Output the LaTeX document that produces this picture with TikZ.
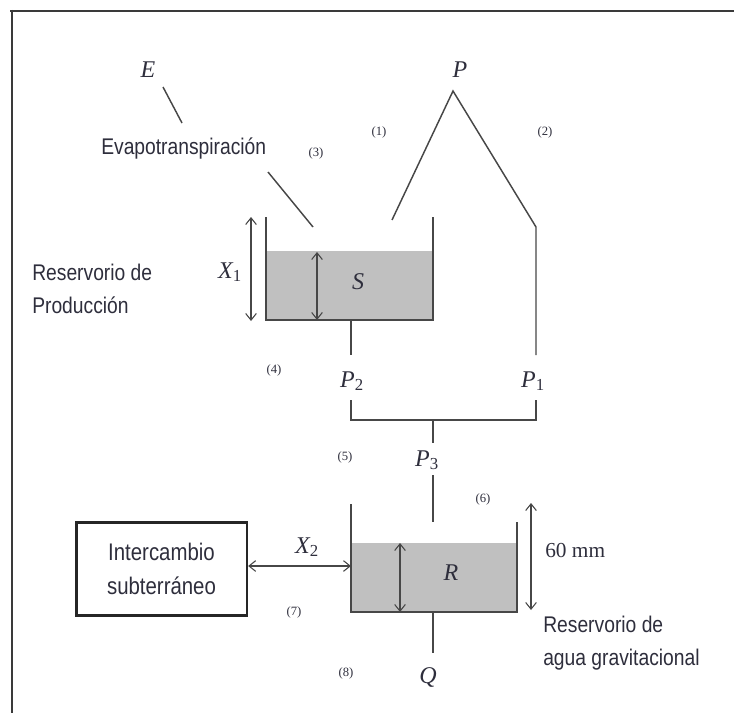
\documentclass[tikz,border=0pt]{standalone}
\usepackage{fontspec}
\setmainfont{Liberation Serif}
\newfontfamily\labfont[FakeStretch=0.85]{Liberation Sans}
\usetikzlibrary{arrows.meta,positioning,calc}
\definecolor{ink}{HTML}{2E2E3C}
\definecolor{wall}{HTML}{474747}
\definecolor{water}{HTML}{C0C0C0}
\definecolor{frame}{HTML}{3A3A3A}
\newcommand{\flux}[2]{\textit{#1}\textsubscript{\upshape#2}}
\tikzset{
  lab/.style={font=\labfont\fontsize{17}{24.5}\selectfont,text=ink,align=left,inner sep=0pt},
  var/.style={font=\fontsize{18}{20}\selectfont\itshape,text=ink,inner sep=0pt},
  num/.style={font=\fontsize{9.5}{11}\selectfont,text=ink,inner sep=0pt},
  tank/.style={draw=wall,line width=1.1pt},
  pipe/.style={draw=wall,line width=1.1pt},
  lvl/.style={draw=wall,line width=0.8pt,
    {Straight Barb[length=5pt,width=8pt]}-{Straight Barb[length=5pt,width=8pt]}},
  exbox/.style={draw=black!85,line width=2pt,minimum width=128pt,minimum height=70pt,
    align=center,font=\labfont\fontsize{18}{26}\selectfont,text=ink,inner sep=0pt},
}

\begin{document}
\begin{tikzpicture}[x=0.75pt,y=-0.75pt]
  \useasboundingbox (0,0) rectangle (734,713);
  % outer frame (top and left only)
  \draw[frame,line width=1.8pt] (10,11) -- (734,11);
  \draw[frame,line width=1.8pt] (12,10) -- (12,713);

  % --- production reservoir S ---
  \fill[water] (266,251) rectangle (433,320);
  \coordinate (sTL) at (266,217);
  \coordinate (sBL) at (266,320);
  \coordinate (sBR) at (433,320);
  \coordinate (sTR) at (433,217);
  \draw[tank] (sTL) -- (sBL) -- (sBR) -- (sTR);
  \node[var] (S) at (358,282) {S};
  \draw[lvl] (251,217) -- (251,321);
  \draw[lvl] (317,252) -- (317,320);
  \node[var] (X1) at (230,272) {\flux{X}{1}};
  \node[lab,anchor=west] (resP) at (32,289) {Reservorio de\\Producción};

  % --- evapotranspiration ---
  \node[var] (E) at (148,70) {E};
  \coordinate (eA) at (163,87);
  \coordinate (eB) at (182,123);
  \draw[pipe] (eA) -- (eB);
  \node[lab,anchor=base west] (evap) at (101,154) {Evapotranspiración};
  \coordinate (eC) at (268,172);
  \coordinate (eD) at (313,227);
  \draw[pipe] (eC) -- (eD);

  % --- precipitation split ---
  \node[var] (P) at (460,70) {P};
  \coordinate (apex) at (453,91);
  \coordinate (pS) at (392,220);
  \coordinate (pK) at (536,227);
  \coordinate (p1top) at (536,355);
  \draw[pipe] (pS) -- (apex) -- (pK) -- (p1top);

  \node[num] (n1) at (379,132) {(1)};
  \node[num] (n2) at (545,132) {(2)};
  \node[num] (n3) at (316,153) {(3)};
  \node[num] (n4) at (274,370) {(4)};

  % --- percolation and merge ---
  \coordinate (sOut) at (351,355);
  \draw[pipe] (351,320) -- (sOut);
  \node[var] (P2) at (352,381) {\flux{P}{2}};
  \node[var] (P1) at (533,381) {\flux{P}{1}};
  \coordinate (b1) at (351,400);
  \coordinate (b2) at (536,400);
  \draw[pipe] (b1) -- (351,420) -- (536,420) -- (b2);
  \coordinate (stem) at (433,443);
  \draw[pipe] (433,420) -- (stem);
  \node[num] (n5) at (345,457) {(5)};
  \node[var] (P3) at (427,460) {\flux{P}{3}};
  \coordinate (rIn) at (433,522);
  \draw[pipe] (433,475) -- (rIn);
  \node[num] (n6) at (483,499) {(6)};

  % --- routing reservoir R ---
  \fill[water] (351,543) rectangle (517,612);
  \coordinate (rTL) at (351,504);
  \coordinate (rTR) at (517,522);
  \draw[tank] (rTL) -- (351,612) -- (517,612) -- (rTR);
  \node[var] (R) at (451,573) {R};
  \draw[lvl] (400,543) -- (400,612);
  \draw[lvl] (531,503) -- (531,610);
  \node[anchor=base west,font=\fontsize{16}{18}\selectfont,text=ink,inner sep=0pt] (mm60) at (545,557) {60 mm};
  \node[lab,anchor=west] (resG) at (543,643) {Reservorio de\\agua gravitacional};

  % --- groundwater exchange ---
  \node[exbox] (inter) at (161.5,569) {Intercambio\\subterráneo};
  \coordinate (rSide) at (351,566);
  \draw[lvl] (inter.east |- rSide) -- (rSide);
  \node[var] (X2) at (307,547) {\flux{X}{2}};
  \node[num] (n7) at (294,612) {(7)};

  % --- outflow ---
  \coordinate (qTop) at (433,653);
  \draw[pipe] (433,612) -- (qTop);
  \node[var] (Q) at (428,677) {Q};
  \node[num] (n8) at (346,673) {(8)};
\end{tikzpicture}
\end{document}
